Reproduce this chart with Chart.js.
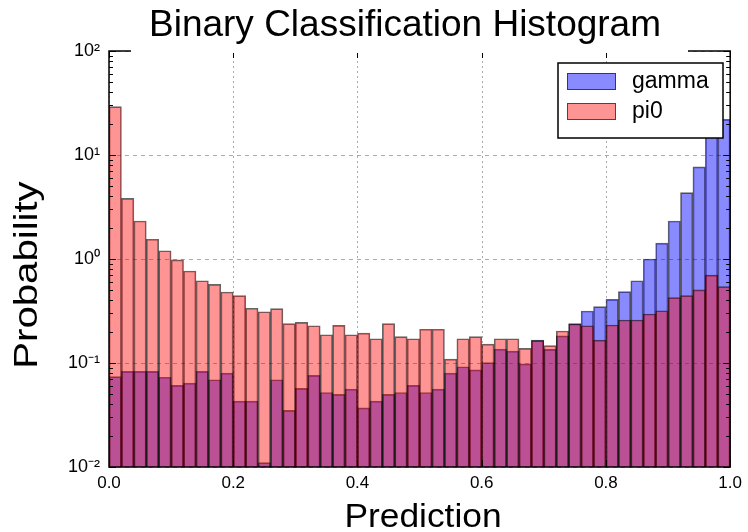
<!DOCTYPE html>
<html>
<head>
<meta charset="utf-8">
<title>Binary Classification Histogram</title>
<script src="https://cdn.jsdelivr.net/npm/chart.js@4.4.1/dist/chart.umd.min.js"></script>
<style>
  html, body { margin: 0; padding: 0; background: #fff; }
  canvas { display: block; }
</style>
</head>
<body>
<canvas id="chart" width="748" height="532"></canvas>
<script>
// данные: 50 бинов по 0.02 на [0, 1]
const binCenters = Array.from({ length: 50 }, (_, i) => +(0.01 + 0.02 * i).toFixed(2));

const gamma = [
  0.074, 0.083, 0.083, 0.083, 0.073, 0.061, 0.064, 0.083, 0.069, 0.080,
  0.043, 0.043, 0.011, 0.069, 0.035, 0.057, 0.076, 0.052, 0.050, 0.056,
  0.037, 0.043, 0.050, 0.052, 0.061, 0.052, 0.056, 0.080, 0.092, 0.086,
  0.101, 0.136, 0.130, 0.098, 0.166, 0.135, 0.182, 0.239, 0.316, 0.348,
  0.409, 0.485, 0.618, 1.00, 1.42, 2.32, 4.35, 7.7, 15, 22,
];

const pi0 = [
  29.2, 3.83, 2.32, 1.55, 1.20, 0.98, 0.767, 0.618, 0.571, 0.482,
  0.444, 0.336, 0.311, 0.333, 0.239, 0.246, 0.228, 0.187, 0.230, 0.187,
  0.194, 0.171, 0.239, 0.179, 0.171, 0.211, 0.211, 0.109, 0.171, 0.179,
  0.152, 0.171, 0.171, 0.138, 0.164, 0.147, 0.203, 0.237, 0.228, 0.166,
  0.232, 0.259, 0.259, 0.296, 0.318, 0.425, 0.444, 0.504, 0.70, 0.542,
];

const xTicks = [0, 0.2, 0.4, 0.6, 0.8, 1.0];
const yTicks = [0.01, 0.1, 1, 10, 100];
const yTickLabels = ['10⁻²', '10⁻¹', '10⁰', '10¹', '10²'];
const seriesNames = ['gamma', 'pi0'];

// цвета
const BLUE = 'rgba(0, 0, 255, 0.46)';
const RED = 'rgba(255, 0, 0, 0.42)';
const EDGE = 'rgba(0, 0, 0, 0.6)';
const GRID = '#aaaaaa';
const FONT = "'Liberation Sans', Arial, sans-serif";

// сетка под столбцами
const gridPlugin = {
  id: 'dashedGrid',
  beforeDatasetsDraw(chart) {
    const { ctx, chartArea: a, scales: { x, y } } = chart;
    ctx.save();
    ctx.strokeStyle = GRID;
    ctx.lineWidth = 1;

    ctx.setLineDash([4, 4]);
    ctx.beginPath();
    yTicks.forEach(v => {
      const py = Math.round(y.getPixelForValue(v)) + 0.5;
      ctx.moveTo(a.left, py); ctx.lineTo(a.right, py);
    });
    ctx.stroke();

    ctx.setLineDash([2, 3]);
    ctx.beginPath();
    xTicks.forEach(v => {
      const px = Math.round(x.getPixelForValue(v)) + 0.5;
      ctx.moveTo(px, a.top); ctx.lineTo(px, a.bottom);
    });
    ctx.stroke();
    ctx.restore();
  },
};

// рамка, засечки внутрь, заголовки, легенда
const decorPlugin = {
  id: 'decor',
  afterDraw(chart) {
    const { ctx, chartArea: a, scales: { x, y } } = chart;
    ctx.save();

    // засечки
    ctx.strokeStyle = '#000';
    ctx.lineWidth = 1;
    ctx.beginPath();
    for (let e = -2; e <= 2; e++) {
      for (let k = 1; k <= 9; k++) {
        const v = k * Math.pow(10, e);
        if (v > 100) break;
        const py = Math.round(y.getPixelForValue(v)) + 0.5;
        const len = k === 1 ? 7 : 4;
        ctx.moveTo(a.left, py); ctx.lineTo(a.left + len, py);
        ctx.moveTo(a.right, py); ctx.lineTo(a.right - len, py);
      }
    }
    xTicks.forEach(v => {
      const px = Math.round(x.getPixelForValue(v)) + 0.5;
      ctx.moveTo(px, a.bottom); ctx.lineTo(px, a.bottom - 7);
      ctx.moveTo(px, a.top); ctx.lineTo(px, a.top + 7);
    });
    ctx.stroke();

    // оси
    ctx.lineWidth = 1.5;
    ctx.strokeRect(a.left, a.top, a.right - a.left, a.bottom - a.top);

    // заголовок на белой подложке
    ctx.fillStyle = '#fff';
    ctx.fillRect(131, 0, 557, a.top + 2);
    ctx.fillStyle = '#000';
    ctx.textAlign = 'center';
    ctx.textBaseline = 'alphabetic';
    ctx.font = `37px ${FONT}`;
    ctx.fillText('Binary Classification Histogram', 405, 36);

    // подписи осей
    ctx.font = `34px ${FONT}`;
    ctx.save();
    ctx.translate(423, 527);
    ctx.scale(1.04, 1);
    ctx.fillText('Prediction', 0, 0);
    ctx.restore();
    ctx.save();
    ctx.translate(37, 275);
    ctx.rotate(-Math.PI / 2);
    ctx.scale(1.18, 1);
    ctx.fillText('Probability', 0, 0);
    ctx.restore();

    // легенда
    const box = { x: 558, y: 63, w: 165, h: 75 };
    ctx.fillStyle = '#fff';
    ctx.fillRect(box.x, box.y, box.w, box.h);
    ctx.lineWidth = 1.5;
    ctx.strokeStyle = '#000';
    ctx.strokeRect(box.x, box.y, box.w, box.h);
    [BLUE, RED].forEach((c, i) => {
      const sy = box.y + 10 + i * 30;
      ctx.fillStyle = c;
      ctx.fillRect(box.x + 9, sy, 49, 17);
      ctx.strokeStyle = EDGE;
      ctx.lineWidth = 1;
      ctx.strokeRect(box.x + 9.5, sy + 0.5, 48, 16);
      ctx.fillStyle = '#000';
      ctx.textAlign = 'left';
      ctx.textBaseline = 'middle';
      ctx.font = `23px ${FONT}`;
      ctx.fillText(seriesNames[i], box.x + 74, sy + 9);
    });

    ctx.restore();
  },
};

new Chart(document.getElementById('chart'), {
  type: 'bar',
  data: {
    labels: binCenters,
    datasets: [
      {
        label: seriesNames[0],
        data: gamma,
        backgroundColor: BLUE,
        borderColor: EDGE,
        borderWidth: 1,
        order: 2,
      },
      {
        label: seriesNames[1],
        data: pi0,
        backgroundColor: RED,
        borderColor: EDGE,
        borderWidth: 1,
        order: 1,
      },
    ],
  },
  options: {
    responsive: false,
    animation: false,
    events: [],
    grouped: false,
    barPercentage: 1,
    categoryPercentage: 1,
    layout: { padding: { top: 51, right: 14, left: 0, bottom: 0 } },
    plugins: {
      legend: { display: false },
      title: { display: false },
      tooltip: { enabled: false },
    },
    scales: {
      x: {
        type: 'linear',
        min: 0,
        max: 1,
        offset: false,
        afterFit: s => { s.height = 65; },
        afterBuildTicks: s => { s.ticks = xTicks.map(v => ({ value: v })); },
        grid: { display: false, drawTicks: false },
        border: { display: false },
        ticks: {
          padding: 6,
          color: '#000',
          maxRotation: 0,
          autoSkip: false,
          font: { family: FONT, size: 17 },
          callback: v => v.toFixed(1),
        },
      },
      y: {
        type: 'logarithmic',
        min: 0.01,
        max: 100,
        afterFit: s => { s.width = 109; },
        afterBuildTicks: s => { s.ticks = yTicks.map(v => ({ value: v })); },
        grid: { display: false, drawTicks: false },
        border: { display: false },
        ticks: {
          padding: 9,
          color: '#000',
          autoSkip: false,
          font: { family: FONT, size: 18 },
          callback: (v, i) => yTickLabels[i],
        },
      },
    },
  },
  plugins: [gridPlugin, decorPlugin],
});
</script>
</body>
</html>
